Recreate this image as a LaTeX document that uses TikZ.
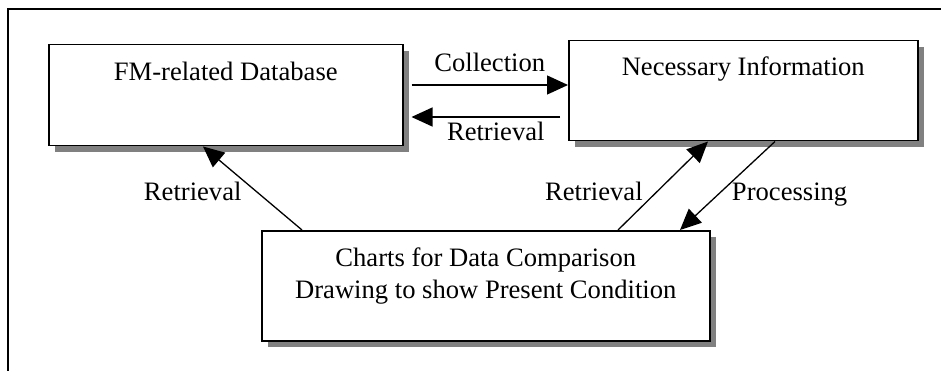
\documentclass[tikz,border=0pt]{standalone}
\usepackage{fontspec}
\setmainfont{Liberation Serif}
\usetikzlibrary{arrows.meta}
\usetikzlibrary{calc}
\usetikzlibrary{shadows}

\begin{document}
\begin{tikzpicture}[x=1pt,y=-1pt,>={Triangle[length=21pt,width=19pt]},
		box/.style={draw,line width=1.5pt,fill=white,anchor=north west,
			inner xsep=0pt,inner ysep=0pt,align=center,
			font=\fontsize{26.6}{32}\selectfont,
			drop shadow={shadow xshift=6pt,shadow yshift=-6pt,fill=black!50,opacity=1}},
		flow/.style={->,line width=1.3pt},
		lbl/.style={font=\fontsize{26.6}{32}\selectfont}]
		
		\useasboundingbox (0,0) rectangle (941,371);
		
		% Frame (only top and left edges are visible)
		\draw[line width=1.5pt] (8,371) -- (8,9) -- (941,9);
		
		% Boxes
		\node[box,minimum width=354pt,text height=36pt,text depth=65pt] (fmdb) at (48,44) {FM-related Database};
		\node[box,minimum width=349pt,text height=35pt,text depth=65pt] (info) at (568,40) {Necessary Information};
		\node[box,minimum width=448pt,text height=68pt,text depth=42pt] (charts) at (261,230)
		{Charts for Data Comparison\\Drawing to show Present Condition};
		
		% Between database and information
		\draw[flow] ($(fmdb.east |- 0,85)+(8,0)$) -- (info.west |- 0,85)
		node[lbl,midway,above=9pt] {Collection};
		\draw[flow] ($(info.west |- 0,117)+(-8,0)$) -- ($(fmdb.east |- 0,117)+(8,0)$)
		node[lbl,midway,below=1pt,xshift=10pt] {Retrieval};
		
		% To and from the charts
		\draw[flow] (charts.north -| 302,0) -- (fmdb.south -| 203,0)
		node[lbl,pos=0.46,left=11pt] {Retrieval};
		\draw[flow] (charts.north -| 618,0) -- (info.south -| 708,0)
		node[lbl,pos=0.44,left=11pt] {Retrieval};
		\draw[flow] (info.south -| 775,0) -- (charts.north -| 680,0)
		node[lbl,pos=0.6,right=10pt] {Processing};
		
	\end{tikzpicture}
\end{document}
